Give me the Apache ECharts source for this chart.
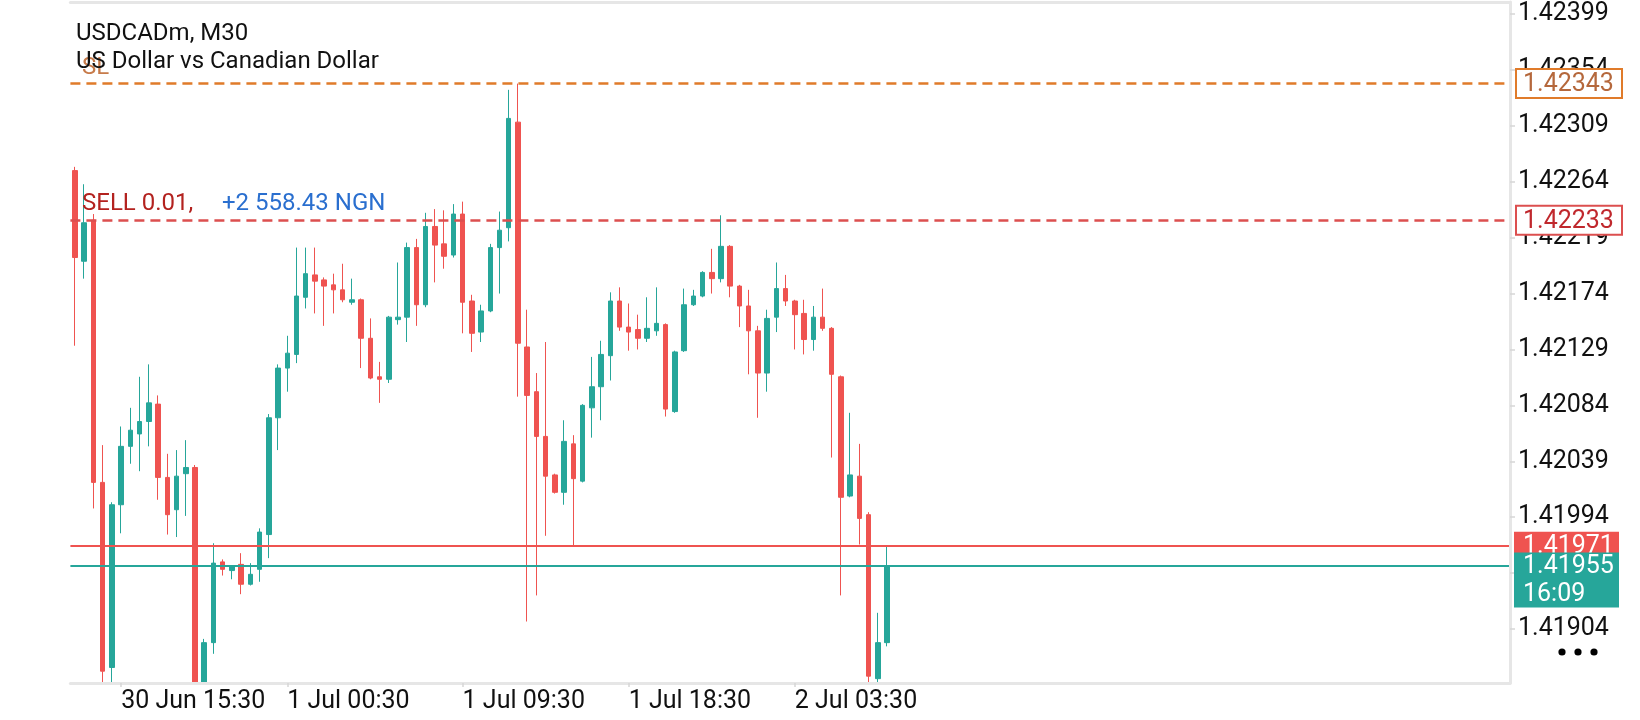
<!DOCTYPE html>
<html>
<head>
<meta charset="utf-8">
<script src="https://cdn.jsdelivr.net/npm/echarts@6/dist/echarts.min.js"></script>
<style>
html,body{margin:0;padding:0;background:#ffffff;}
#chart{width:1640px;height:720px;}
</style>
</head>
<body>
<div id="chart"></div>
<script>
// ---- data (USDCADm, M30) ----
const opens = [
1.42273,1.42200,1.42233,1.42022,1.41873,1.42004,1.42051,1.42061,1.42071,1.42085,
1.42026,1.42000,1.42029,1.42034,1.41850,1.41893,1.41958,1.41951,1.41956,1.41940,
1.41952,1.41980,1.42074,1.42114,1.42125,1.42171,1.42189,1.42185,1.42181,1.42177,
1.42167,1.42169,1.42138,1.42107,1.42105,1.42153,1.42155,1.42211,1.42165,1.42228,
1.42214,1.42205,1.42238,1.42168,1.42143,1.42160,1.42211,1.42227,1.42312,1.42131,
1.42095,1.42059,1.42028,1.42014,1.42053,1.42023,1.42082,1.42099,1.42124,1.42168,
1.42147,1.42145,1.42138,1.42144,1.42149,1.42079,1.42128,1.42165,1.42172,1.42191,
1.42186,1.42212,1.42180,1.42164,1.42144,1.42110,1.42155,1.42178,1.42168,1.42158,
1.42137,1.42155,1.42146,1.42107,1.42011,1.42027,1.41996,1.41864,1.41893
];
const closes = [
1.42203,1.42231,1.42022,1.41870,1.42004,1.42051,1.42064,1.42071,1.42086,1.42026,
1.41996,1.42027,1.42034,1.41848,1.41893,1.41957,1.41952,1.41954,1.41940,1.41948,
1.41982,1.42074,1.42114,1.42126,1.42172,1.42190,1.42184,1.42180,1.42177,1.42169,
1.42169,1.42138,1.42106,1.42105,1.42155,1.42155,1.42211,1.42165,1.42228,1.42213,
1.42204,1.42238,1.42167,1.42142,1.42160,1.42211,1.42225,1.42315,1.42134,1.42092,
1.42059,1.42027,1.42014,1.42055,1.42025,1.42084,1.42099,1.42125,1.42168,1.42147,
1.42143,1.42138,1.42146,1.42150,1.42081,1.42127,1.42165,1.42172,1.42191,1.42186,
1.42212,1.42180,1.42164,1.42144,1.42110,1.42154,1.42178,1.42168,1.42157,1.42137,
1.42155,1.42146,1.42109,1.42010,1.42028,1.41993,1.41866,1.41893,1.41955
];
const lows = [
1.42132,1.42186,1.42001,1.41845,1.41850,1.41981,1.42037,1.42031,1.42051,1.42008,
1.41980,1.41978,1.41995,1.41830,1.41835,1.41884,1.41947,1.41944,1.41932,1.41939,
1.41942,1.41961,1.42048,1.42095,1.42118,1.42162,1.42158,1.42148,1.42158,1.42167,
1.42165,1.42114,1.42105,1.42086,1.42102,1.42149,1.42135,1.42148,1.42163,1.42183,
1.42194,1.42203,1.42142,1.42127,1.42135,1.42159,1.42174,1.42216,1.42091,1.41910,
1.41931,1.41979,1.42013,1.42004,1.41971,1.42022,1.42058,1.42072,1.42104,1.42144,
1.42128,1.42129,1.42135,1.42140,1.42075,1.42078,1.42127,1.42164,1.42171,1.42174,
1.42183,1.42171,1.42147,1.42109,1.42074,1.42095,1.42143,1.42164,1.42129,1.42125,
1.42128,1.42144,1.42042,1.41931,1.42010,1.41972,1.41855,1.41855,1.41890
];
const highs = [
1.42276,1.42262,1.42238,1.42052,1.42006,1.42067,1.42082,1.42107,1.42117,1.42092,
1.42045,1.42048,1.42056,1.42036,1.41896,1.41973,1.41960,1.41955,1.41965,1.41957,
1.41985,1.42077,1.42117,1.42140,1.42211,1.42211,1.42211,1.42187,1.42190,1.42198,
1.42186,1.42170,1.42154,1.42119,1.42156,1.42199,1.42215,1.42218,1.42239,1.42242,
1.42241,1.42246,1.42248,1.42173,1.42165,1.42214,1.42240,1.42338,1.42343,1.42161,
1.42110,1.42135,1.42029,1.42072,1.42060,1.42085,1.42123,1.42136,1.42175,1.42179,
1.42166,1.42157,1.42171,1.42179,1.42150,1.42128,1.42178,1.42177,1.42192,1.42210,
1.42237,1.42213,1.42181,1.42177,1.42148,1.42161,1.42199,1.42189,1.42169,1.42169,
1.42164,1.42178,1.42147,1.42108,1.42078,1.42053,1.41998,1.41917,1.41971
];

// y-axis tick labels, x-axis tick labels (index of the candle they sit on)
const yTickValues = [1.42399,1.42354,1.42309,1.42264,1.42219,1.42174,1.42129,1.42084,1.42039,1.41994,1.41949,1.41904];
const xTickIndex  = [5, 23, 42, 60, 78];
const xTickLabels = ['30 Jun 15:30','1 Jul 00:30','1 Jul 09:30','1 Jul 18:30','2 Jul 03:30'];

// price levels and texts
const stopLoss   = 1.42343;
const sellEntry  = 1.42233;
const askPrice   = 1.41971;
const bidPrice   = 1.41955;
const countdown  = '16:09';
const symbolTitle = 'USDCADm, M30';
const symbolDesc  = 'US Dollar vs Canadian Dollar';
const orderText   = 'SELL 0.01,';
const profitText  = '+2 558.43 NGN';
const slText      = 'SL';

const yMin = 1.418605, yMax = 1.424087;
const slotCount = 156;   // visible bar slots on the time axis (chart scrolled, empty space on right)

// ---- build ----
const UP = '#26a69a', DOWN = '#ef5350';
const slots = Array.from({length: slotCount}, (_, i) => String(i));
const ohlc = opens.map((o, i) => [o, closes[i], lows[i], highs[i]]);
const FONT = 'Roboto';

const chart = echarts.init(document.getElementById('chart'), null, {renderer: 'canvas'});

chart.setOption({
  animation: false,
  backgroundColor: '#ffffff',
  textStyle: {fontFamily: FONT},
  grid: {left: 70.4, right: 130, top: 2, bottom: 37, containLabel: false, outerBoundsMode: 'none'},
  xAxis: [{
    type: 'category', data: slots, boundaryGap: true, position: 'bottom', z: 10,
    axisLine: {show: true, onZero: false, lineStyle: {color: '#e6e6e6', width: 3}},
    axisTick: {show: true, alignWithLabel: true, length: 4,
      interval: (i) => xTickIndex.includes(i), lineStyle: {color: '#d6d6d6', width: 1.5}},
    axisLabel: {show: true, interval: (i) => xTickIndex.includes(i), align: 'left', margin: 6,
      color: '#111111', fontSize: 25, fontFamily: FONT,
      formatter: (v, i) => { const k = xTickIndex.indexOf(Number(v)); return k >= 0 ? xTickLabels[k] : ''; }},
    splitLine: {show: false}
  }, {
    type: 'category', data: slots, boundaryGap: true, position: 'top', z: 10,
    axisLine: {show: true, onZero: false, lineStyle: {color: '#e6e6e6', width: 3}},
    axisTick: {show: false}, axisLabel: {show: false}, splitLine: {show: false}
  }],
  yAxis: {
    type: 'value', position: 'right', min: yMin, max: yMax, scale: true, z: 10,
    axisLine: {show: true, lineStyle: {color: '#e6e6e6', width: 3}},
    axisTick: {show: true, length: 5, customValues: yTickValues, lineStyle: {color: '#d6d6d6', width: 1.5}},
    axisLabel: {show: true, customValues: yTickValues, margin: 8, color: '#111111',
      fontSize: 25, fontFamily: FONT, formatter: (v) => Number(v).toFixed(5)},
    splitLine: {show: false}
  },
  series: [{
    type: 'candlestick', xAxisIndex: 0, yAxisIndex: 0, data: ohlc, barWidth: 5, clip: true, z: 2,
    itemStyle: {color: UP, color0: DOWN, borderColor: UP, borderColor0: DOWN, borderWidth: 1}
  }, {
    type: 'line', xAxisIndex: 0, yAxisIndex: 0, data: [], z: 3, symbol: 'none',
    markLine: {
      symbol: 'none', silent: true, animation: false, precision: 6, label: {show: false},
      data: [
        {yAxis: stopLoss,  lineStyle: {color: '#e07b2a', type: [10, 6], width: 2.6}},
        {yAxis: sellEntry, lineStyle: {color: '#dc4f4f', type: [10, 6], width: 2.6}},
        {yAxis: askPrice,  lineStyle: {color: DOWN, type: 'solid', width: 2}},
        {yAxis: bidPrice,  lineStyle: {color: UP, type: 'solid', width: 2}}
      ]
    }
  }]
});

const yPix = (v) => chart.convertToPixel({yAxisIndex: 0}, v);
const ySL = yPix(stopLoss), ySell = yPix(sellEntry), yAsk = yPix(askPrice), yBid = yPix(bidPrice);
const gridRect = chart.getModel().getComponent('grid', 0).coordinateSystem.getRect();
const boxX = 1516, boxW = 106;

const txt = (x, y, text, fill, size, z) => ({
  type: 'text', x: x, y: y, z: z || 100,
  style: {text: text, fill: fill, fontSize: size, fontFamily: FONT, verticalAlign: 'middle', align: 'left'}
});

chart.setOption({
  graphic: [
    // white covers outside the plot so wicks that run past the price range are cut at the frame
    {type: 'rect', z: 5, silent: true,
      shape: {x: 0, y: gridRect.y + gridRect.height, width: gridRect.x + gridRect.width, height: 60},
      style: {fill: '#ffffff'}},
    {type: 'rect', z: 5, silent: true,
      shape: {x: 0, y: -60, width: gridRect.x + gridRect.width, height: gridRect.y + 60},
      style: {fill: '#ffffff'}},
    txt(82, ySL - 16, slText, '#c77b4a', 24, 90),
    txt(76, 34, symbolTitle, '#111111', 24, 95),
    txt(76, 62, symbolDesc, '#111111', 24, 95),
    txt(82, ySell - 16, orderText, '#b3221f', 24, 95),
    txt(222, ySell - 16, profitText, '#2a6fcf', 24, 95),
    {type: 'rect', z: 100, shape: {x: boxX, y: ySL - 14.5, width: boxW, height: 29},
      style: {fill: '#ffffff', stroke: '#e07b2a', lineWidth: 2}},
    txt(boxX + 7, ySL + 1, stopLoss.toFixed(5), '#b5683c', 25, 101),
    {type: 'rect', z: 100, shape: {x: boxX, y: ySell - 14.5, width: boxW, height: 29},
      style: {fill: '#ffffff', stroke: '#dc4f4f', lineWidth: 2}},
    txt(boxX + 7, ySell + 1, sellEntry.toFixed(5), '#c0282d', 25, 101),
    {type: 'rect', z: 100, shape: {x: boxX - 2, y: yAsk - 14, width: boxW - 1, height: 27},
      style: {fill: DOWN}},
    txt(boxX + 7, yAsk + 1, askPrice.toFixed(5), '#ffffff', 25, 101),
    {type: 'rect', z: 102, shape: {x: boxX - 2, y: yBid - 13, width: boxW - 1, height: 55},
      style: {fill: UP}},
    txt(boxX + 7, yBid + 1, bidPrice.toFixed(5), '#ffffff', 25, 103),
    txt(boxX + 7, yBid + 29, countdown, '#ffffff', 25, 103),
    {type: 'circle', z: 100, shape: {cx: 1562, cy: 652, r: 3.6}, style: {fill: '#000000'}},
    {type: 'circle', z: 100, shape: {cx: 1578, cy: 652, r: 3.6}, style: {fill: '#000000'}},
    {type: 'circle', z: 100, shape: {cx: 1594, cy: 652, r: 3.6}, style: {fill: '#000000'}}
  ]
});
</script>
</body>
</html>
